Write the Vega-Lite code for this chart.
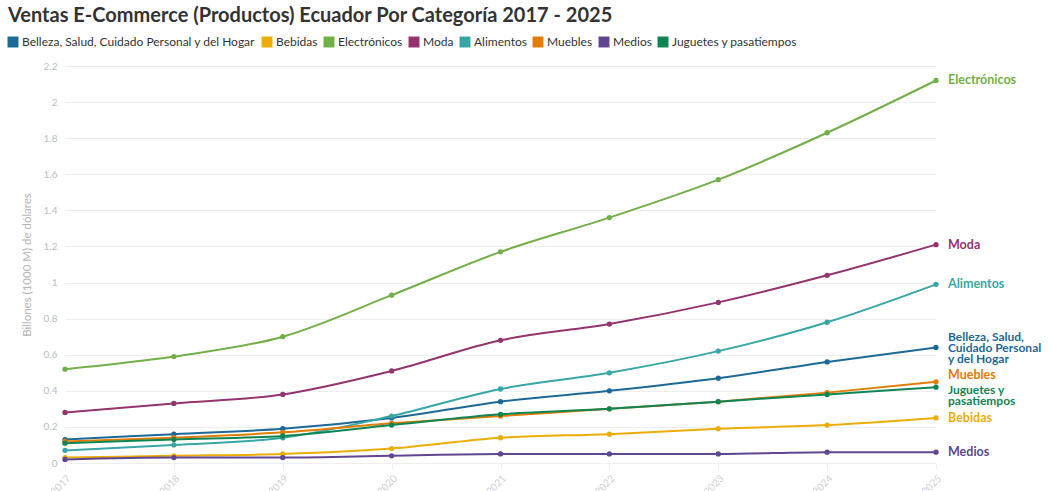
{
  "$schema": "https://vega.github.io/schema/vega-lite/v6.json",
  "width": 871,
  "height": 397,
  "autosize": "none",
  "padding": {"left": 65, "top": 66, "right": 114, "bottom": 28},
  "background": "white",
  "config": {"font": "Lato", "view": {"stroke": null}},
  "title": {
    "text": "Ventas E-Commerce (Productos) Ecuador Por Categoría 2017 - 2025",
    "anchor": "start",
    "frame": "group",
    "dx": -57,
    "offset": 10,
    "fontSize": 20,
    "fontWeight": "bold",
    "color": "#333333",
    "font": "Lato"
  },
  "data": {
    "values": [
      {"year": "2017", "cat": "Belleza, Salud, Cuidado Personal y del Hogar", "v": 0.13},
      {"year": "2018", "cat": "Belleza, Salud, Cuidado Personal y del Hogar", "v": 0.16},
      {"year": "2019", "cat": "Belleza, Salud, Cuidado Personal y del Hogar", "v": 0.19},
      {"year": "2020", "cat": "Belleza, Salud, Cuidado Personal y del Hogar", "v": 0.25},
      {"year": "2021", "cat": "Belleza, Salud, Cuidado Personal y del Hogar", "v": 0.34},
      {"year": "2022", "cat": "Belleza, Salud, Cuidado Personal y del Hogar", "v": 0.40},
      {"year": "2023", "cat": "Belleza, Salud, Cuidado Personal y del Hogar", "v": 0.47},
      {"year": "2024", "cat": "Belleza, Salud, Cuidado Personal y del Hogar", "v": 0.56},
      {"year": "2025", "cat": "Belleza, Salud, Cuidado Personal y del Hogar", "v": 0.64, "label": "Belleza, Salud,\nCuidado Personal\ny del Hogar"},
      {"year": "2017", "cat": "Bebidas", "v": 0.03},
      {"year": "2018", "cat": "Bebidas", "v": 0.04},
      {"year": "2019", "cat": "Bebidas", "v": 0.05},
      {"year": "2020", "cat": "Bebidas", "v": 0.08},
      {"year": "2021", "cat": "Bebidas", "v": 0.14},
      {"year": "2022", "cat": "Bebidas", "v": 0.16},
      {"year": "2023", "cat": "Bebidas", "v": 0.19},
      {"year": "2024", "cat": "Bebidas", "v": 0.21},
      {"year": "2025", "cat": "Bebidas", "v": 0.25, "label": "Bebidas"},
      {"year": "2017", "cat": "Electrónicos", "v": 0.52},
      {"year": "2018", "cat": "Electrónicos", "v": 0.59},
      {"year": "2019", "cat": "Electrónicos", "v": 0.70},
      {"year": "2020", "cat": "Electrónicos", "v": 0.93},
      {"year": "2021", "cat": "Electrónicos", "v": 1.17},
      {"year": "2022", "cat": "Electrónicos", "v": 1.36},
      {"year": "2023", "cat": "Electrónicos", "v": 1.57},
      {"year": "2024", "cat": "Electrónicos", "v": 1.83},
      {"year": "2025", "cat": "Electrónicos", "v": 2.12, "label": "Electrónicos"},
      {"year": "2017", "cat": "Moda", "v": 0.28},
      {"year": "2018", "cat": "Moda", "v": 0.33},
      {"year": "2019", "cat": "Moda", "v": 0.38},
      {"year": "2020", "cat": "Moda", "v": 0.51},
      {"year": "2021", "cat": "Moda", "v": 0.68},
      {"year": "2022", "cat": "Moda", "v": 0.77},
      {"year": "2023", "cat": "Moda", "v": 0.89},
      {"year": "2024", "cat": "Moda", "v": 1.04},
      {"year": "2025", "cat": "Moda", "v": 1.21, "label": "Moda"},
      {"year": "2017", "cat": "Alimentos", "v": 0.07},
      {"year": "2018", "cat": "Alimentos", "v": 0.10},
      {"year": "2019", "cat": "Alimentos", "v": 0.14},
      {"year": "2020", "cat": "Alimentos", "v": 0.26},
      {"year": "2021", "cat": "Alimentos", "v": 0.41},
      {"year": "2022", "cat": "Alimentos", "v": 0.50},
      {"year": "2023", "cat": "Alimentos", "v": 0.62},
      {"year": "2024", "cat": "Alimentos", "v": 0.78},
      {"year": "2025", "cat": "Alimentos", "v": 0.99, "label": "Alimentos"},
      {"year": "2017", "cat": "Muebles", "v": 0.12},
      {"year": "2018", "cat": "Muebles", "v": 0.14},
      {"year": "2019", "cat": "Muebles", "v": 0.17},
      {"year": "2020", "cat": "Muebles", "v": 0.22},
      {"year": "2021", "cat": "Muebles", "v": 0.26},
      {"year": "2022", "cat": "Muebles", "v": 0.30},
      {"year": "2023", "cat": "Muebles", "v": 0.34},
      {"year": "2024", "cat": "Muebles", "v": 0.39},
      {"year": "2025", "cat": "Muebles", "v": 0.45, "label": "Muebles"},
      {"year": "2017", "cat": "Medios", "v": 0.02},
      {"year": "2018", "cat": "Medios", "v": 0.03},
      {"year": "2019", "cat": "Medios", "v": 0.03},
      {"year": "2020", "cat": "Medios", "v": 0.04},
      {"year": "2021", "cat": "Medios", "v": 0.05},
      {"year": "2022", "cat": "Medios", "v": 0.05},
      {"year": "2023", "cat": "Medios", "v": 0.05},
      {"year": "2024", "cat": "Medios", "v": 0.06},
      {"year": "2025", "cat": "Medios", "v": 0.06, "label": "Medios"},
      {"year": "2017", "cat": "Juguetes y pasatiempos", "v": 0.11},
      {"year": "2018", "cat": "Juguetes y pasatiempos", "v": 0.13},
      {"year": "2019", "cat": "Juguetes y pasatiempos", "v": 0.15},
      {"year": "2020", "cat": "Juguetes y pasatiempos", "v": 0.21},
      {"year": "2021", "cat": "Juguetes y pasatiempos", "v": 0.27},
      {"year": "2022", "cat": "Juguetes y pasatiempos", "v": 0.30},
      {"year": "2023", "cat": "Juguetes y pasatiempos", "v": 0.34},
      {"year": "2024", "cat": "Juguetes y pasatiempos", "v": 0.38},
      {"year": "2025", "cat": "Juguetes y pasatiempos", "v": 0.42, "label": "Juguetes y\npasatiempos"}
    ]
  },
  "encoding": {
    "x": {
      "field": "year",
      "type": "ordinal",
      "scale": {"type": "point", "padding": 0},
      "axis": {
        "title": null,
        "labelAngle": -45,
        "labelAlign": "right",
        "labelBaseline": "top",
        "labelColor": "#cfcfcf",
        "labelFontSize": 10,
        "labelPadding": 4,
        "domain": false,
        "ticks": true,
        "tickColor": "#eeeeee",
        "tickSize": 6,
        "grid": false
      }
    },
    "y": {
      "field": "v",
      "type": "quantitative",
      "scale": {"domain": [0, 2.2], "nice": false},
      "axis": {
        "title": "Billones (1000 M) de dólares",
        "titleColor": "#b5b5b5",
        "titleFontSize": 11.5,
        "titleFontWeight": "normal",
        "titlePadding": 11,
        "values": [0, 0.2, 0.4, 0.6, 0.8, 1, 1.2, 1.4, 1.6, 1.8, 2, 2.2],
        "format": "~g",
        "labelColor": "#bdbdbd",
        "labelFontSize": 10,
        "labelPadding": 8,
        "domain": false,
        "ticks": false,
        "gridColor": "#efefef"
      }
    },
    "color": {
      "field": "cat",
      "type": "nominal",
      "scale": {
        "domain": ["Belleza, Salud, Cuidado Personal y del Hogar", "Bebidas", "Electrónicos", "Moda", "Alimentos", "Muebles", "Medios", "Juguetes y pasatiempos"],
        "range": ["#1D6996", "#EDAD08", "#73AF48", "#94346E", "#38A6A5", "#E17C05", "#5F4690", "#0F8554"]
      },
      "legend": {
        "title": null,
        "orient": "none",
        "legendX": -58,
        "legendY": -30,
        "direction": "horizontal",
        "columns": 8,
        "symbolType": "square",
        "symbolSize": 120,
        "symbolStrokeWidth": 0,
        "symbolOpacity": 1,
        "labelFontSize": 12,
        "labelColor": "#333333",
        "labelOffset": 3,
        "columnPadding": 5,
        "labelLimit": 400
      }
    }
  },
  "layer": [
    {"mark": {"type": "line", "interpolate": "monotone", "strokeWidth": 2}},
    {"mark": {"type": "circle", "size": 28, "opacity": 1}},
    {
      "transform": [{"filter": "datum.label && datum.cat != 'Muebles' && datum.cat != 'Juguetes y pasatiempos' && datum.cat != 'Belleza, Salud, Cuidado Personal y del Hogar'"}],
      "mark": {"type": "text", "align": "left", "baseline": "middle", "dx": 12, "fontWeight": "bold", "fontSize": 12.5},
      "encoding": {"text": {"field": "label"}}
    },
    {
      "transform": [{"filter": "datum.cat == 'Belleza, Salud, Cuidado Personal y del Hogar'"}, {"filter": "datum.label"}],
      "mark": {"type": "text", "align": "left", "baseline": "middle", "dx": 12, "dy": -11, "fontWeight": "bold", "fontSize": 12, "lineBreak": "\n", "lineHeight": 11},
      "encoding": {"text": {"field": "label"}}
    },
    {
      "transform": [{"filter": "datum.cat == 'Muebles'"}, {"filter": "datum.label"}],
      "mark": {"type": "text", "align": "left", "baseline": "middle", "dx": 12, "dy": -7, "fontWeight": "bold", "fontSize": 12.5},
      "encoding": {"text": {"field": "label"}}
    },
    {
      "transform": [{"filter": "datum.cat == 'Juguetes y pasatiempos'"}, {"filter": "datum.label"}],
      "mark": {"type": "text", "align": "left", "baseline": "middle", "dx": 12, "dy": 3, "fontWeight": "bold", "fontSize": 12, "lineBreak": "\n", "lineHeight": 11},
      "encoding": {"text": {"field": "label"}}
    }
  ]
}
